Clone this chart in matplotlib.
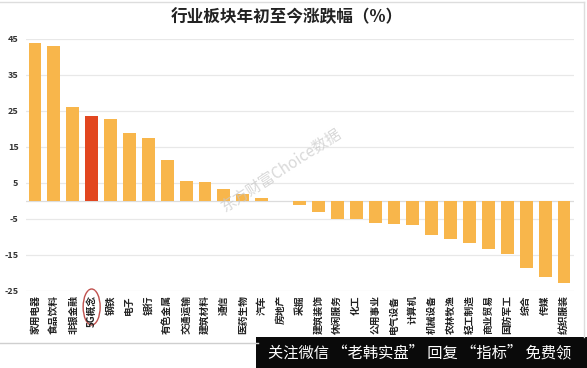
import numpy as np
import matplotlib
matplotlib.use("Agg")
import matplotlib.pyplot as plt
from matplotlib.patches import Ellipse, Rectangle
from matplotlib.transforms import blended_transform_factory
from matplotlib.lines import Line2D

plt.rcParams['font.family'] = ['Noto Sans CJK SC', 'DejaVu Sans']

# data
sectors = ["家用电器", "食品饮料", "非银金融", "5G概念", "钢铁", "电子", "银行",
           "有色金属", "交通运输", "建筑材料", "通信", "医药生物", "汽车", "房地产",
           "采掘", "建筑装饰", "休闲服务", "化工", "公用事业", "电气设备", "计算机",
           "机械设备", "农林牧渔", "轻工制造", "商业贸易", "国防军工", "综合", "传媒",
           "纺织服装"]
change = [43.8, 43.1, 26.2, 23.7, 22.7, 18.8, 17.6,
          11.4, 5.6, 5.2, 3.3, 2.0, 0.7, 0.1,
          -1.0, -3.0, -5.0, -5.0, -6.2, -6.5, -6.8,
          -9.4, -10.5, -11.6, -13.4, -14.8, -18.7, -21.2,
          -22.9]
yticks = [45, 35, 25, 15, 5, -5, -15, -25]
highlight = "5G概念"

W, H = 587, 368
fig = plt.figure(figsize=(W / 100, H / 100), dpi=100)
ax = fig.add_axes([25.5 / W, 77 / H, 548 / W, 252 / H])

x = np.arange(len(sectors))
colors = ["#E2461F" if s == highlight else "#F8B64B" for s in sectors]
ax.bar(x, change, width=0.68, color=colors, zorder=3)

ax.set_xlim(-0.5, len(sectors) - 0.5)
ax.set_ylim(-25, 45)
ax.set_yticks(yticks)
ax.set_yticklabels([str(v) for v in yticks], fontsize=6.5, color="#333333",
                   fontweight="bold")
ax.yaxis.grid(True, color="#e8e8e8", linewidth=0.9, zorder=0)
ax.axhline(0, color="#dcdcdc", linewidth=0.9, zorder=1)
ax.tick_params(axis="y", length=0, pad=5)
ax.tick_params(axis="x", length=0, pad=3)
ax.set_xticks(x)
ax.set_xticklabels(sectors, rotation=90, fontsize=7, color="#222222",
                   fontweight="bold", va="top")
for sp in ax.spines.values():
    sp.set_visible(False)

# title
fig.text(287 / W, 1 - 17 / H, "行业板块年初至今涨跌幅（%）", ha="center", va="center",
         fontsize=12, fontweight="bold", color="#222222")

# watermark
fig.text(282 / W, 1 - 170 / H, "东方财富Choice数据", ha="center", va="center",
         fontsize=11, color="#c8c8c8", rotation=33, alpha=0.7, zorder=5)

# red ellipse around highlighted label
tr = blended_transform_factory(ax.transData, fig.transFigure)
ax.add_patch(Ellipse((sectors.index(highlight), 1 - 307 / H), 0.9, 36 / H,
                     transform=tr, fill=False, edgecolor="#c0504d",
                     linewidth=1.0, clip_on=False))

# frame lines
fig.add_artist(Line2D([0, 258 / W], [1 - 343 / H, 1 - 343 / H],
                      color="#cfcfcf", linewidth=1.0))
fig.add_artist(Line2D([0, 584 / W], [1 - 2 / H, 1 - 2 / H],
                      color="#dddddd", linewidth=1.0))
fig.add_artist(Line2D([584 / W, 584 / W], [1 - 337 / H, 1 - 2 / H],
                      color="#dddddd", linewidth=1.0))

# bottom banner
fig.add_artist(Rectangle((256 / W, 0), 1 - 256 / W, 31 / H,
                         transform=fig.transFigure, facecolor="#0a0a0a",
                         edgecolor="none"))
fig.text(420 / W, 15 / H, "关注微信 “老韩实盘” 回复 “指标” 免费领", ha="center",
         va="center", fontsize=11, color="white")

fig.savefig("out.png", dpi=100)
